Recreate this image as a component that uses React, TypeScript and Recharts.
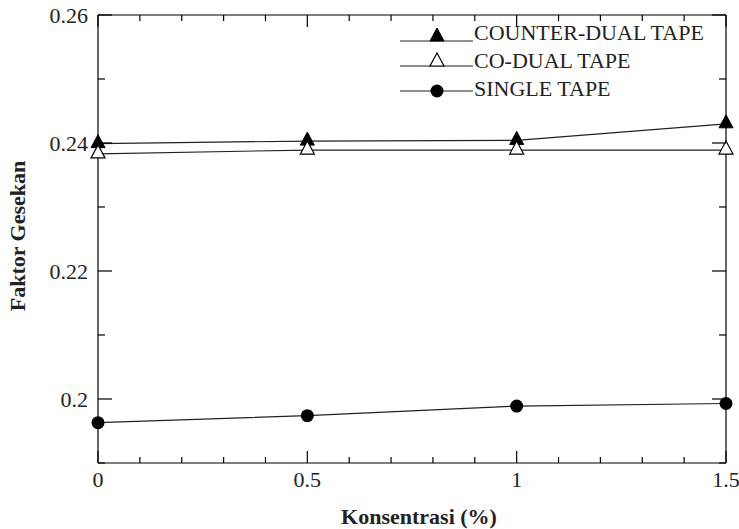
import { LineChart, Line, XAxis, YAxis } from "recharts";

// nilai
const konsentrasi = [0, 0.5, 1, 1.5];
const counterDual = [0.2399, 0.2403, 0.2404, 0.243];
const coDual = [0.2383, 0.2389, 0.2389, 0.2389];
const singleTape = [0.1963, 0.1974, 0.1989, 0.1993];

const xTicks = [0, 0.1, 0.2, 0.3, 0.4, 0.5, 0.6, 0.7, 0.8, 0.9, 1, 1.1, 1.2, 1.3, 1.4, 1.5];
const yTicks = [0.19, 0.2, 0.21, 0.22, 0.23, 0.24, 0.25, 0.26];

const data = konsentrasi.map((k, i) => ({
  k,
  counter: counterDual[i],
  co: coDual[i],
  single: singleTape[i],
}));

const FONT = "'Liberation Serif', serif";
const fmt = (v: number) => String(Number(v.toFixed(2)));
const isMajorX = (v: number) => Math.round(v * 10) % 5 === 0;
const isMajorY = (v: number) => Math.round(v * 100) % 2 === 0;

const BottomTick = ({ x, y, payload }: any) => {
  const major = isMajorX(payload.value);
  return (
    <g>
      <line x1={x} y1={y} x2={x} y2={y - (major ? 12 : 6)} stroke="#000" strokeWidth={1.2} />
      {major && (
        <text x={x} y={y + 24} textAnchor="middle" fontSize={22} style={{ fontFamily: FONT }} fill="#222">
          {fmt(payload.value)}
        </text>
      )}
    </g>
  );
};

const TopTick = ({ x, y, payload }: any) => {
  const major = isMajorX(payload.value);
  return <line x1={x} y1={y} x2={x} y2={y + (major ? 12 : 6)} stroke="#000" strokeWidth={1.2} />;
};

const LeftTick = ({ x, y, payload }: any) => {
  const major = isMajorY(payload.value);
  return (
    <g>
      <line x1={x} y1={y} x2={x + (major ? 14 : 7)} y2={y} stroke="#000" strokeWidth={1.2} />
      {major && (
        <text x={x - 10} y={y} dy="0.35em" textAnchor="end" fontSize={22} style={{ fontFamily: FONT }} fill="#222">
          {fmt(payload.value)}
        </text>
      )}
    </g>
  );
};

const RightTick = ({ x, y, payload }: any) => {
  const major = isMajorY(payload.value);
  return <line x1={x} y1={y} x2={x - (major ? 14 : 7)} y2={y} stroke="#000" strokeWidth={1.2} />;
};

const FilledTriangle = ({ cx, cy }: any) => (
  <path d={`M${cx},${cy - 9} L${cx + 7},${cy + 4} L${cx - 7},${cy + 4} Z`} fill="#000" stroke="#000" />
);
const OpenTriangle = ({ cx, cy }: any) => (
  <path d={`M${cx},${cy - 9} L${cx + 7},${cy + 4} L${cx - 7},${cy + 4} Z`} fill="#fff" stroke="#000" strokeWidth={1.2} />
);
const Circle = ({ cx, cy }: any) => <circle cx={cx} cy={cy} r={6.5} fill="#000" />;

const legendItems = [
  { name: "COUNTER-DUAL TAPE", Marker: FilledTriangle },
  { name: "CO-DUAL TAPE", Marker: OpenTriangle },
  { name: "SINGLE TAPE", Marker: Circle },
];

export default function App() {
  return (
    <div style={{ position: "absolute", left: 0, top: 0, width: 739, height: 529, background: "#fff" }}>
      <LineChart width={739} height={529} data={data} margin={{ top: 14, right: 12, left: 38, bottom: 0 }}>
        <XAxis
          xAxisId="bottom"
          dataKey="k"
          type="number"
          domain={[0, 1.5]}
          ticks={xTicks}
          interval={0}
          tickSize={0}
          tickMargin={0}
          tick={<BottomTick />}
          height={66}
          axisLine={{ stroke: "#000", strokeWidth: 1.2 }}
          label={{
            content: ({ viewBox }: any) => (
              <text
                x={viewBox.x + viewBox.width / 2 + 7}
                y={viewBox.y + 61}
                textAnchor="middle"
                fontSize={22}
                fontWeight="bold"
                style={{ fontFamily: FONT }}
                fill="#222"
              >
                Konsentrasi (%)
              </text>
            ),
          }}
        />
        {/* sumbu atas & kanan hanya untuk bingkai dan tick */}
        <XAxis
          xAxisId="top"
          orientation="top"
          dataKey="k"
          type="number"
          domain={[0, 1.5]}
          allowDataOverflow
          ticks={xTicks}
          interval={0}
          tickSize={0}
          tickMargin={0}
          tick={<TopTick />}
          height={1}
          axisLine={{ stroke: "#000", strokeWidth: 1.2 }}
        />
        <YAxis
          yAxisId="left"
          type="number"
          domain={[0.19, 0.26]}
          ticks={yTicks}
          interval={0}
          tickSize={0}
          tickMargin={0}
          tick={<LeftTick />}
          width={60}
          axisLine={{ stroke: "#000", strokeWidth: 1.2 }}
          label={{
            content: ({ viewBox }: any) => {
              const cy = viewBox.y + viewBox.height / 2 - 3;
              return (
                <text
                  x={17}
                  y={cy}
                  transform={`rotate(-90 17 ${cy})`}
                  dy="0.35em"
                  textAnchor="middle"
                  fontSize={22}
                  fontWeight="bold"
                  style={{ fontFamily: FONT }}
                  fill="#222"
                >
                  Faktor Gesekan
                </text>
              );
            },
          }}
        />
        <YAxis
          yAxisId="right"
          orientation="right"
          type="number"
          domain={[0.19, 0.26]}
          allowDataOverflow
          ticks={yTicks}
          interval={0}
          tickSize={0}
          tickMargin={0}
          tick={<RightTick />}
          width={1}
          axisLine={{ stroke: "#000", strokeWidth: 1.2 }}
        />
        <Line
          xAxisId="bottom"
          yAxisId="left"
          dataKey="counter"
          stroke="#222"
          strokeWidth={1.2}
          dot={<FilledTriangle />}
          isAnimationActive={false}
        />
        <Line
          xAxisId="bottom"
          yAxisId="left"
          dataKey="co"
          stroke="#222"
          strokeWidth={1.2}
          dot={<OpenTriangle />}
          isAnimationActive={false}
        />
        <Line
          xAxisId="bottom"
          yAxisId="left"
          dataKey="single"
          stroke="#222"
          strokeWidth={1.2}
          dot={<Circle />}
          isAnimationActive={false}
        />
      </LineChart>
      <svg style={{ position: "absolute", left: 395, top: 15 }} width={330} height={90}>
        {legendItems.map(({ name, Marker }, i) => {
          const ly = 26 + i * 25;
          return (
            <g key={name}>
              <line x1={5} y1={ly} x2={78} y2={ly} stroke="#222" strokeWidth={1.2} />
              <Marker cx={42} cy={i === 2 ? ly : ly - 4} />
              <text x={79} y={25 + i * 28} fontSize={22} style={{ fontFamily: FONT }} fill="#222">
                {name}
              </text>
            </g>
          );
        })}
      </svg>
    </div>
  );
}
